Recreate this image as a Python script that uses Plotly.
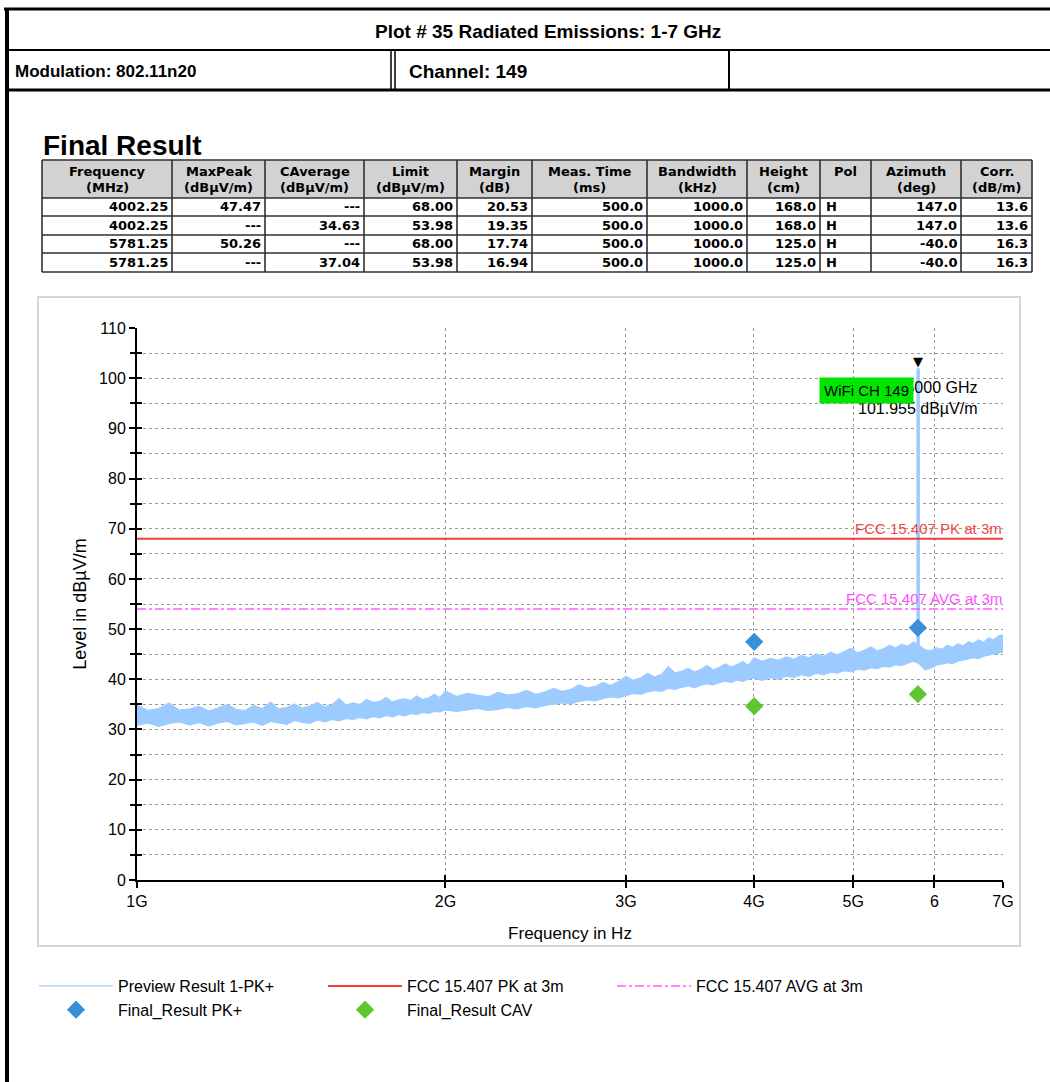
import numpy as np
import plotly.graph_objects as go

W, H = 1050, 1082

# ---------------- data ----------------
freq_ghz = [1.000, 1.025, 1.050, 1.075, 1.100, 1.125, 1.150, 1.175, 1.200, 1.225, 1.250, 1.275, 1.300, 1.325,
            1.350, 1.375, 1.400, 1.425, 1.450, 1.475, 1.500, 1.525, 1.550, 1.575, 1.600, 1.625, 1.650, 1.675,
            1.700, 1.725, 1.750, 1.775, 1.800, 1.825, 1.850, 1.875, 1.900, 1.925, 1.950, 1.975, 2.000,
            2.05, 2.10, 2.15, 2.20, 2.25, 2.30, 2.35, 2.40, 2.45, 2.50, 2.55, 2.60, 2.65, 2.70, 2.75, 2.80,
            2.85, 2.90, 2.95, 3.00, 3.05, 3.10, 3.15, 3.20, 3.25, 3.30, 3.35, 3.40, 3.45, 3.50, 3.55, 3.60,
            3.65, 3.70, 3.75, 3.80, 3.85, 3.90, 3.95, 4.00,
            4.075, 4.150, 4.225, 4.300, 4.375, 4.450, 4.525, 4.600, 4.675, 4.750, 4.825, 4.900, 4.975,
            5.050, 5.125, 5.200, 5.275, 5.350, 5.425, 5.500, 5.575, 5.650, 5.725, 5.800, 5.875, 5.950,
            6.025, 6.100, 6.175, 6.250, 6.325, 6.400, 6.475, 6.550, 6.625, 6.700, 6.775, 6.850, 6.925, 7.000]
preview_upper = [34.9, 33.8, 34.2, 35.3, 33.9, 34.1, 34.6, 33.7, 34.3, 35.0, 34.0, 33.8, 34.8, 34.2,
                 35.5, 34.1, 34.4, 35.1, 34.3, 34.7, 35.4, 34.5, 35.0, 36.2, 34.9, 35.3, 35.0, 36.0,
                 35.4, 35.6, 36.4, 35.5, 35.9, 36.1, 35.8, 36.7, 36.0, 36.3, 37.0, 36.4, 37.7,
                 36.6, 37.2, 36.8, 36.5, 37.4, 36.9, 37.1, 37.8, 37.0, 37.5, 38.2, 37.6, 38.0, 38.9, 38.3,
                 38.6, 39.4, 38.8, 39.6, 40.6, 39.8, 40.3, 41.2, 40.5, 41.0, 42.6, 41.3, 41.6, 42.2, 41.5,
                 42.0, 42.8, 41.9, 42.4, 43.1, 42.5, 42.9, 43.6, 42.8, 44.3,
                 43.6, 44.2, 43.8, 44.5, 44.0, 44.8, 44.3, 45.1, 44.6, 45.4, 44.9, 45.6, 46.2, 45.3,
                 45.8, 46.5, 45.7, 46.1, 46.8, 46.3, 47.0, 46.6, 47.5, 46.8, 45.9, 45.7, 46.3, 46.0,
                 46.8, 46.4, 47.1, 46.7, 47.5, 47.2, 47.9, 47.4, 48.3, 47.9, 48.6, 48.9]
preview_lower = [30.8, 31.3, 30.6, 31.2, 31.5, 30.9, 31.4, 30.7, 31.3, 31.6, 30.9, 31.2, 31.5, 30.8,
                 31.6, 31.3, 31.0, 31.8, 31.4, 31.2, 31.9, 31.5, 32.0, 31.7, 32.2, 32.0, 32.4, 32.1,
                 32.6, 32.3, 32.8, 32.5, 33.0, 32.7, 33.2, 33.0, 33.4, 33.2, 33.6, 33.5, 33.9,
                 33.6, 33.9, 34.2, 33.8, 34.0, 34.4, 34.1, 34.6, 34.3, 34.8, 35.0, 35.3, 35.1, 35.6, 35.9,
                 35.7, 36.2, 36.5, 36.3, 36.8, 37.2, 37.0, 37.5, 37.8, 37.6, 38.2, 38.0, 38.4, 38.7, 38.3,
                 38.8, 39.1, 38.9, 39.3, 39.6, 39.4, 39.8, 39.6, 40.0, 40.2,
                 39.8, 40.3, 40.0, 40.6, 40.4, 40.9, 40.6, 41.2, 40.9, 41.4, 41.2, 41.7, 41.5, 42.0,
                 41.8, 42.3, 42.1, 42.6, 42.4, 42.9, 42.7, 43.2, 43.6, 43.1, 41.9, 42.2, 42.8, 43.0,
                 43.3, 43.1, 43.6, 43.8, 44.0, 44.3, 44.1, 44.6, 44.8, 45.0, 45.3, 45.4]
peak_freq_ghz = [5.785]
peak_level = [101.955]
peak_base = [44.0]
peak_label = "WiFi CH 149"

limit_freq_mhz = [1000, 7000]
pk_limit = [68.0, 68.0]
avg_limit = [53.98, 53.98]

final_freq_mhz = [4002.25, 5781.25]
final_pk = [47.47, 50.26]
final_cav = [34.63, 37.04]

x_tick_ghz = [1, 2, 3, 4, 5, 6, 7]
x_tick_text = ["1G", "2G", "3G", "4G", "5G", "6", "7G"]

tbl_head1 = ["Frequency", "MaxPeak", "CAverage", "Limit", "Margin", "Meas. Time", "Bandwidth", "Height",
             "Pol", "Azimuth", "Corr."]
tbl_head2 = ["(MHz)", "(dBµV/m)", "(dBµV/m)", "(dBµV/m)", "(dB)", "(ms)", "(kHz)", "(cm)", "",
             "(deg)", "(dB/m)"]
tbl_freq = ["4002.25", "4002.25", "5781.25", "5781.25"]
tbl_maxpeak = ["47.47", "---", "50.26", "---"]
tbl_cavg = ["---", "34.63", "---", "37.04"]
tbl_limit = ["68.00", "53.98", "68.00", "53.98"]
tbl_margin = ["20.53", "19.35", "17.74", "16.94"]
tbl_meas = ["500.0", "500.0", "500.0", "500.0"]
tbl_bw = ["1000.0", "1000.0", "1000.0", "1000.0"]
tbl_height = ["168.0", "168.0", "125.0", "125.0"]
tbl_pol = ["H", "H", "H", "H"]
tbl_az = ["147.0", "147.0", "-40.0", "-40.0"]
tbl_corr = ["13.6", "13.6", "16.3", "16.3"]

page_title = "Plot # 35 Radiated Emissions: 1-7 GHz"
modulation = "Modulation: 802.11n20"
channel = "Channel: 149"
table_title = "Final Result"

# ---------------- layout helpers (pixel positions of the page) ----------------
def px(x):
    return x / W


def py(y):
    return 1 - y / H


ARIAL = "Liberation Sans, Arial, sans-serif"
TBLFONT = "DejaVu Sans, Verdana, sans-serif"

fhz = [f * 1e9 for f in freq_ghz]

fig = go.Figure()

# preview noise band
fig.add_trace(go.Scatter(x=fhz, y=preview_lower, mode="lines", name="Preview Result 1-PK+",
                         line=dict(color="#9ccbff", width=1.2), legendrank=1, hoverinfo="skip"))
fig.add_trace(go.Scatter(x=fhz, y=preview_upper, mode="lines", fill="tonexty", fillcolor="#9ccbff",
                         line=dict(color="#9ccbff", width=1), showlegend=False, hoverinfo="skip"))
fig.add_trace(go.Scatter(x=[peak_freq_ghz[0] * 1e9, peak_freq_ghz[0] * 1e9], y=[peak_base[0], peak_level[0]],
                         mode="lines", line=dict(color="#9ccbff", width=3.5), showlegend=False))

# limit lines
fig.add_trace(go.Scatter(x=[f * 1e6 for f in limit_freq_mhz], y=pk_limit, mode="lines",
                         name="FCC 15.407 PK at 3m", line=dict(color="#f03c3c", width=2), legendrank=2))
fig.add_trace(go.Scatter(x=[f * 1e6 for f in limit_freq_mhz], y=avg_limit, mode="lines",
                         name="FCC 15.407 AVG at 3m", line=dict(color="#ff5cff", width=1.5, dash="dashdot"),
                         legendrank=3))

# final results
fig.add_trace(go.Scatter(x=[f * 1e6 for f in final_freq_mhz], y=final_pk, mode="markers",
                         name="Final_Result PK+", marker=dict(symbol="diamond", size=14, color="#3b8fd8"),
                         xaxis="x2", yaxis="y2", legendrank=4))
fig.add_trace(go.Scatter(x=[f * 1e6 for f in final_freq_mhz], y=final_cav, mode="markers",
                         name="Final_Result CAV", marker=dict(symbol="diamond", size=14, color="#5ec62e"),
                         xaxis="x2", yaxis="y2", legendrank=5))

xr = [np.log10(1e9), np.log10(7e9)]
grid = dict(showgrid=True, gridcolor="#9a9a9a", griddash="dot", gridwidth=1)

shapes = []
annotations = []


def line(x0, y0, x1, y1, w=2, c="black"):
    shapes.append(dict(type="line", xref="paper", yref="paper", x0=px(x0), y0=py(y0), x1=px(x1), y1=py(y1),
                       line=dict(color=c, width=w), layer="above"))


def text(t, x, y, size, xanchor="left", family=ARIAL, weight="normal", color="black"):
    annotations.append(dict(text=t, x=px(x), y=py(y), xref="paper", yref="paper", xanchor=xanchor,
                            yanchor="middle", showarrow=False,
                            font=dict(family=family, size=size, color=color, weight=weight)))


# page frame
line(4, 9, 1050, 9, 3)
line(7, 8, 7, 1082, 4)
line(7, 50, 1050, 50, 2)
line(7, 90, 1050, 90, 3)
line(391, 50, 391, 90, 1.5)
line(395, 50, 395, 90, 1.5)
line(729, 50, 729, 90, 2)
text(page_title, 548, 31, 19, "center", weight="bold")
text(modulation, 13, 71, 17, weight="bold")
text(channel, 407, 71, 19, weight="bold")

# results table (drawn)
col_edges = [42, 172, 265, 364, 457, 532, 647, 747, 820, 871, 961, 1032]
row_edges = [160, 198, 216, 235, 253, 272]
shapes.append(dict(type="rect", xref="paper", yref="paper", x0=px(42), x1=px(1032), y0=py(198), y1=py(160),
                   fillcolor="#d2d2d2", line=dict(width=0), layer="below"))
for yy in row_edges:
    line(42, yy, 1032, yy, 1.6, "#303030")
for xx in col_edges:
    line(xx, 160, xx, 272, 1.6, "#303030")
text(table_title, 41, 146, 28, weight="bold")
columns = [tbl_freq, tbl_maxpeak, tbl_cavg, tbl_limit, tbl_margin, tbl_meas, tbl_bw, tbl_height, tbl_pol,
           tbl_az, tbl_corr]
for i, col in enumerate(columns):
    xl, xr_ = col_edges[i], col_edges[i + 1]
    text(tbl_head1[i], (xl + xr_) / 2, 171, 13, "center", TBLFONT, "bold")
    if tbl_head2[i]:
        text(tbl_head2[i], (xl + xr_) / 2, 188, 13, "center", TBLFONT, "bold")
    for j, v in enumerate(col):
        yc = (row_edges[j + 1] + row_edges[j + 2]) / 2
        if tbl_head1[i] == "Pol":
            text(v, xl + 4, yc, 13, "left", TBLFONT, "bold")
        else:
            text(v, xr_ - 2, yc, 13, "right", TBLFONT, "bold")

# chart panel
shapes.append(dict(type="rect", xref="paper", yref="paper", x0=px(38), y0=py(946), x1=px(1020), y1=py(297),
                   line=dict(color="#c9c9c9", width=1.5), layer="below"))

pk_x = np.log10(peak_freq_ghz[0] * 1e9)
annotations += [
    dict(text="FCC 15.407 PK at 3m", x=px(1004), y=pk_limit[0], xref="paper", yref="y", xanchor="right",
         yanchor="bottom", showarrow=False, font=dict(family=ARIAL, size=15, color="#f04848")),
    dict(text="FCC 15.407 AVG at 3m", x=px(1004), y=avg_limit[0], xref="paper", yref="y", xanchor="right",
         yanchor="bottom", showarrow=False, font=dict(family=ARIAL, size=15, color="#ff50ff")),
    dict(text="▼", x=pk_x, y=peak_level[0], xref="x", yref="y", yanchor="bottom", showarrow=False,
         font=dict(family="DejaVu Sans", size=13, color="black"), yshift=-3),
    dict(text="%.6f GHz<br>%.3f dBµV/m" % (peak_freq_ghz[0], peak_level[0]), x=pk_x, y=peak_level[0],
         xref="x", yref="y", xanchor="right", yanchor="top", xshift=62, yshift=-9, align="right",
         showarrow=False, font=dict(family=ARIAL, size=16, color="black")),
    dict(text=peak_label, x=pk_x, y=peak_level[0], xref="x", yref="y", xanchor="right", yanchor="top",
         xshift=-4, yshift=-9, showarrow=False, bgcolor="#00e600", borderpad=4,
         font=dict(family=ARIAL, size=15, color="black")),
]

fig.update_layout(
    width=W, height=H, margin=dict(l=0, r=0, t=0, b=0), template=None,
    paper_bgcolor="white", plot_bgcolor="white",
    font=dict(family=ARIAL, color="black"),
    xaxis=dict(type="log", domain=[px(137), px(1003)], range=xr, anchor="y",
               tickvals=[v * 1e9 for v in x_tick_ghz], ticktext=x_tick_text,
               ticks="outside", ticklen=6, tickwidth=1.5, tickcolor="black",
               showline=True, linecolor="black", linewidth=2, zeroline=False, **grid,
               tickfont=dict(size=16, color="black"),
               title=dict(text="Frequency in Hz", font=dict(size=17, color="black"), standoff=18),
               automargin=False),
    xaxis2=dict(type="log", overlaying="x", anchor="y", side="bottom", range=xr,
                tickvals=[v * 1e9 for v in x_tick_ghz], ticks="inside", ticklen=5, tickwidth=1.5,
                tickcolor="black", showticklabels=False, showgrid=False, showline=False, zeroline=False),
    yaxis=dict(domain=[py(880), py(328)], range=[0, 110], anchor="x", tick0=0, dtick=10,
               ticks="outside", ticklen=6, tickwidth=1.5, tickcolor="black",
               showline=True, linecolor="black", linewidth=2, zeroline=False, **grid,
               minor=dict(dtick=5, ticks="outside", ticklen=5, tickwidth=1.5, tickcolor="black",
                          showgrid=True, gridcolor="#9a9a9a", griddash="dot"),
               tickfont=dict(size=16, color="black"),
               title=dict(text="Level in dBµV/m", font=dict(size=18, color="black"), standoff=8),
               automargin=False),
    yaxis2=dict(overlaying="y", anchor="x", side="left", range=[0, 110], tick0=0, dtick=10,
                ticks="inside", ticklen=5, tickwidth=1.5, tickcolor="black", showticklabels=False,
                showgrid=False, showline=False, zeroline=False,
                minor=dict(dtick=5, ticks="inside", ticklen=5, tickwidth=1.5, tickcolor="black", showgrid=False)),
    legend=dict(orientation="h", x=px(34), y=py(969), xanchor="left", yanchor="top",
                entrywidth=200, entrywidthmode="pixels", itemwidth=74,
                font=dict(family=ARIAL, size=16, color="black"), bgcolor="rgba(0,0,0,0)",
                traceorder="normal", tracegroupgap=0),
    shapes=shapes,
    annotations=annotations,
    showlegend=True,
)

fig.write_html("out.html", config={"displayModeBar": False},
               post_script="document.body.style.margin='0';document.body.style.overflow='hidden';")
